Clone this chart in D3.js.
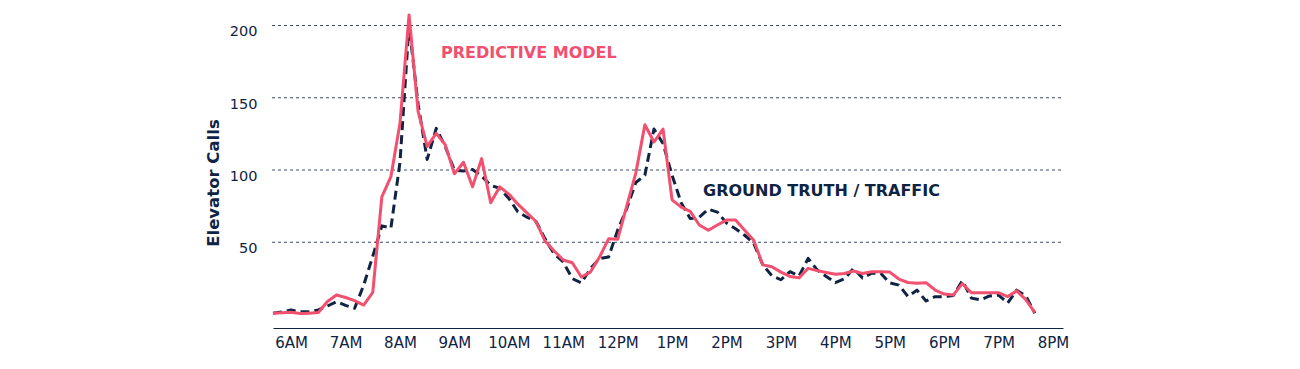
<!DOCTYPE html>
<html><head><meta charset="utf-8">
<script src="https://cdn.jsdelivr.net/npm/d3@7"></script>
<style>body{margin:0;background:#fff} svg{display:block}</style>
</head><body><svg id="c" width="1300" height="369"></svg>
<script>
// ---- data (10-minute readings starting 5:40 AM) ----
const startTime = [5, 40];
const stepMinutes = 10;
const predictive = [
  0.5, 0.8, 1.2, 0.3, 0.6, 1.0, 8.6, 13.1, 11.4, 9.3,
  6.2, 15, 81, 95, 132, 207, 140, 116, 125, 117,
  97, 105, 88, 107.5, 77, 88, 83, 76, 70, 64,
  50.5, 43.6, 37.4, 35.5, 25.6, 29, 39.4, 52, 51.7, 74.7,
  97.5, 131, 119, 128, 79, 74, 71, 61.6, 58, 61.6,
  65, 65, 58, 51, 34, 32.7, 29, 26, 25, 31.6,
  30, 28.7, 27.5, 28, 29.8, 28, 29.3, 29.3, 29, 24.2,
  21.8, 21.2, 21.7, 16.6, 13.8, 13.1, 21, 14.7, 14.7, 14.7,
  14.7, 12.1, 16, 10, 1
];
const groundTruth = [
  0.5, 1.5, 2.8, 1.5, 1.5, 2.8, 5.5, 8.5, 6, 4,
  20, 40, 61, 59.5, 105, 200, 145, 107, 128.5, 115.8,
  99.5, 99, 100, 95.5, 89, 87, 80, 70.7, 67, 64,
  52, 41.5, 36, 24.5, 21.5, 31.5, 38.3, 39.5, 58, 73,
  91, 96, 128, 118, 96, 77, 66, 67, 72.5, 70.5,
  63, 59, 54.5, 49, 34, 26.5, 23.7, 29.3, 26.3, 38.5,
  30.5, 26, 21.7, 24.3, 31.6, 25, 28.2, 28.2, 21.5, 20,
  12.2, 16.5, 9, 12, 12, 12.8, 23, 11, 9.8, 12.5,
  13.1, 7.6, 16.5, 12.5, 0.5
];
const tickHours = [6, 7, 8, 9, 10, 11, 12, 13, 14, 15, 16, 17, 18, 19, 20];
const tickLabels = ["6AM","7AM","8AM","9AM","10AM","11AM","12PM","1PM","2PM","3PM","4PM","5PM","6PM","7PM","8PM"];
const gridValues = [50, 100, 150, 200];
const yTitle = "Elevator Calls";
const predictiveLabel = "PREDICTIVE MODEL";
const truthLabel = "GROUND TRUTH / TRAFFIC";

// ---- chart ----
const NAVY = "#0f2343", PINK = "#f2506f";
const svg = d3.select("#c");
const day = (h, m) => new Date(2020, 0, 1, h, m);
const t0 = day(startTime[0], startTime[1]);
const timeAt = i => d3.timeMinute.offset(t0, i * stepMinutes);

const x = d3.scaleTime().domain([t0, day(20, 11)]).range([273, 1063]);
const y = d3.scaleLinear().domain([0, 200]).range([314, 25]);

// grid + y labels
const gy = svg.append("g").attr("transform", "translate(272,0)")
  .call(d3.axisLeft(y).tickValues(gridValues).tickSize(-790).tickPadding(14.5));
gy.select(".domain").remove();
gy.selectAll(".tick line").attr("stroke", "#3d4a66").attr("stroke-width", 1).attr("stroke-dasharray", "3,3");
gy.selectAll(".tick text").attr("dy", "0.75em").attr("fill", NAVY)
  .style("font-family", "'DejaVu Sans', sans-serif").style("font-size", "14.5px");

// x axis
const gx = svg.append("g").attr("transform", "translate(0,328)")
  .call(d3.axisBottom(x).tickValues(tickHours.map(h => day(h, 0))).tickFormat((d, i) => tickLabels[i])
    .tickSize(0).tickPadding(9));
gx.select(".domain").attr("stroke", NAVY).attr("stroke-width", 1.2);
gx.selectAll(".tick text").attr("fill", NAVY)
  .style("font-family", "'DejaVu Sans', sans-serif").style("font-size", "15px");

// lines
const line = d3.line().x((d, i) => x(timeAt(i))).y(d => y(d));
svg.append("path").datum(groundTruth).attr("d", line).attr("fill", "none")
  .attr("stroke", NAVY).attr("stroke-width", 3).attr("stroke-dasharray", "9,5")
  .attr("stroke-linejoin", "round");
svg.append("path").datum(predictive).attr("d", line).attr("fill", "none")
  .attr("stroke", PINK).attr("stroke-width", 3).attr("stroke-linejoin", "round");

// labels
svg.append("text").attr("x", 213).attr("y", 183)
  .attr("transform", "rotate(-90,213,183)").attr("text-anchor", "middle").attr("dominant-baseline", "central")
  .attr("fill", NAVY).style("font-family", "'DejaVu Sans', sans-serif").style("font-weight", "bold").style("font-size", "16.5px")
  .text(yTitle);
svg.append("text").attr("x", 441).attr("y", 58).attr("fill", PINK)
  .style("font-family", "'DejaVu Sans', sans-serif").style("font-weight", "bold").style("font-size", "16px")
  .text(predictiveLabel);
svg.append("text").attr("x", 703).attr("y", 196).attr("fill", NAVY)
  .style("font-family", "'DejaVu Sans', sans-serif").style("font-weight", "bold").style("font-size", "16px")
  .text(truthLabel);
</script></body></html>
